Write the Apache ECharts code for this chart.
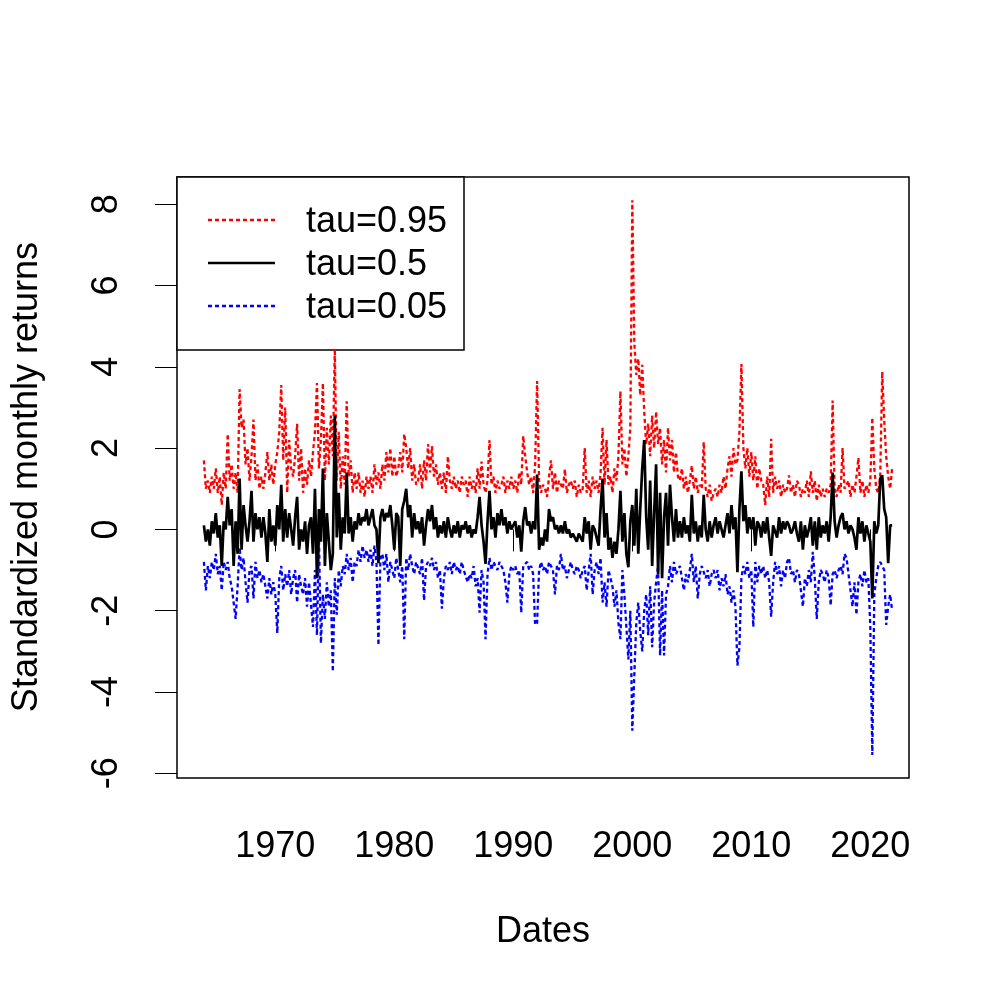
<!DOCTYPE html>
<html><head><meta charset="utf-8">
<script src="https://cdn.jsdelivr.net/npm/echarts@6/dist/echarts.min.js"></script>
<style>html,body{margin:0;padding:0;background:#fff}#c{width:1000px;height:1000px}</style>
</head><body><div id="c"></div>
<script>
const startYear = 1964;
const stepsPerYear = 6;
const xTicks = [1970, 1980, 1990, 2000, 2010, 2020];
const yTicks = [-6, -4, -2, 0, 2, 4, 6, 8];
const seriesNames = ['tau=0.95', 'tau=0.5', 'tau=0.05'];
const xTitle = 'Dates';
const yTitle = 'Standardized monthly returns';

const tau95 = [
1.7,1.0,1.2,0.9,1.3,1.0, 1.5,0.9,1.3,0.6,1.4,1.0, 2.35,1.2,1.6,1.0,1.4,0.9, 3.45,2.5,2.7,1.6,2.0,1.2,
1.8,2.7,1.2,1.6,1.0,1.3, 1.0,1.4,1.9,1.2,1.6,1.1, 1.6,1.9,2.4,3.55,1.7,3.0, 0.9,2.2,1.5,1.3,1.8,2.6,
1.2,2.0,0.9,1.5,1.1,1.7, 1.3,1.9,2.4,3.6,1.5,2.2, 3.6,1.2,2.5,1.6,2.8,1.8, 4.45,1.2,2.4,1.0,1.8,1.1,
3.15,1.3,1.7,0.9,1.4,1.0, 1.4,0.9,1.2,0.8,1.3,1.0, 1.3,0.9,1.6,1.1,1.4,1.0, 1.6,1.2,1.9,1.4,2.0,1.3,
1.8,1.3,1.5,1.9,1.4,2.35, 2.0,1.5,2.0,1.2,1.6,1.1, 1.2,1.6,1.0,1.7,1.2,2.1, 1.4,2.05,1.3,1.6,1.1,1.4,
1.0,1.4,0.9,1.8,1.2,1.0, 1.3,1.0,1.2,0.9,1.3,1.1, 1.2,0.8,1.3,1.0,1.2,0.9, 1.5,1.0,1.67,1.1,0.9,1.2,
2.2,1.1,1.3,0.9,1.2,1.0, 1.1,1.3,0.9,1.2,1.0,1.3, 1.0,1.2,0.9,1.4,1.1,2.3, 1.8,1.4,1.1,1.3,0.9,1.6,
3.65,1.2,0.9,1.1,1.0,0.8, 1.3,1.7,1.0,1.4,0.9,1.2, 1.2,1.0,1.48,0.9,1.1,1.2, 1.0,1.2,0.8,1.1,0.9,1.0,
2.0,0.9,1.2,0.8,1.3,1.0, 1.2,0.9,1.4,2.5,1.1,2.2, 1.1,1.3,0.9,1.5,1.2,1.8, 3.4,1.6,2.0,1.3,1.8,2.5,
8.1,4.6,3.8,4.2,3.3,4.05, 2.9,2.1,2.6,1.8,2.8,2.0, 2.9,2.1,2.5,1.6,2.2,1.4, 2.5,1.7,2.2,1.4,1.9,1.3,
1.2,1.5,1.0,1.3,0.9,1.2, 1.57,1.0,1.3,0.9,1.1,1.0, 2.15,1.0,0.8,1.1,0.7,0.9, 1.0,0.8,1.1,0.9,1.3,1.0,
1.5,1.8,1.3,2.0,1.6,1.7, 2.4,4.07,2.0,1.5,2.0,1.3, 1.9,1.2,1.8,1.0,1.5,1.2, 1.1,0.6,1.3,0.8,2.23,0.9,
1.3,1.0,1.2,0.8,1.1,0.9, 1.0,1.33,0.9,1.1,0.8,1.2, 1.1,0.8,1.0,0.9,1.2,0.8, 1.43,0.9,1.2,0.7,1.1,0.8,
1.0,0.8,1.0,0.9,1.1,3.17, 1.0,0.8,1.1,0.9,2.0,1.0, 1.0,1.2,0.8,1.1,0.9,1.3, 1.76,0.9,1.2,0.8,1.1,0.9,
1.2,2.75,1.5,1.0,0.9,1.3, 3.88,2.7,1.8,1.3,1.0,1.5
];

const tau50 = [
0.1,-0.3,0.0,-0.4,0.2,-0.1, 0.4,-0.2,0.1,-0.9,0.2,0.0, 0.8,0.1,0.5,-0.9,0.2,-0.6, 1.25,-0.5,0.6,0.1,-0.3,0.2,
0.95,-0.3,0.4,0.0,0.3,-0.2, 0.3,-0.1,-0.8,0.5,-0.3,0.1, -0.4,0.6,0.0,1.1,-0.3,0.5, -0.2,0.4,0.0,-0.4,0.3,0.8,
-0.5,0.0,-0.3,0.2,-0.6,0.1, 0.3,-0.6,1.0,-1.2,0.5,-0.3, 1.5,-0.9,0.4,-0.3,-1.0,-0.6, 2.8,-0.2,0.9,-0.5,0.3,-0.1,
1.4,-0.1,0.3,-0.3,0.2,0.0, 0.4,0.1,0.3,0.2,0.5,0.1, 0.3,0.5,0.1,0.0,-0.83,0.3, 0.5,0.2,0.4,0.3,0.6,0.1,
-0.5,0.4,0.3,-0.9,0.5,0.7, 1.0,0.3,0.6,-0.2,0.4,0.0, 0.2,-0.1,0.3,-0.4,0.1,0.5, 0.2,0.6,0.0,0.3,-0.2,0.1,
-0.1,0.2,-0.2,0.3,0.0,-0.2, 0.1,-0.1,0.2,-0.2,0.1,0.0, 0.2,-0.1,0.1,-0.2,0.0,-0.1, 0.3,0.8,0.1,-0.3,-0.85,0.2,
0.95,0.0,0.3,-0.2,0.4,0.1, 0.5,0.1,0.3,-0.1,0.2,0.0, 0.0,0.2,-0.2,0.1,-0.55,0.2, 0.55,0.1,0.2,-0.1,0.2,0.0,
1.35,-0.5,-0.2,-0.4,0.0,-0.3, 0.5,0.2,0.3,0.0,0.1,-0.1, 0.1,-0.1,0.2,-0.1,0.0,-0.2, -0.1,-0.2,-0.3,-0.1,-0.2,-0.3,
0.3,-0.1,0.2,-0.5,0.1,0.0, 0.0,-0.4,0.5,1.25,-0.2,0.4, -0.5,-0.2,-0.7,-0.3,-0.6,0.0, 0.95,-0.3,0.4,-0.6,-0.93,0.2,
0.6,-0.4,1.0,-0.6,0.5,1.5, 2.2,0.3,-0.5,1.2,-0.9,0.4, 1.6,-1.1,0.9,-1.2,0.3,0.9, -0.4,1.1,0.3,-0.3,0.5,-0.2,
0.2,-0.2,0.3,-0.1,0.1,-0.3, 0.85,-0.1,0.2,-0.3,0.1,-0.2, 0.85,0.0,-0.3,0.2,-0.2,0.1, 0.3,-0.1,0.2,0.0,-0.2,0.1,
0.4,-0.1,0.6,0.0,0.3,-1.05, 0.5,1.43,0.2,0.6,-0.1,0.3, 0.0,0.3,-0.4,0.2,0.1,-0.2, 0.2,-0.1,0.3,-0.2,-0.65,0.1,
0.1,-0.2,0.3,-0.1,0.2,0.0, 0.2,0.1,-0.1,0.0,0.2,-0.1, -0.3,0.2,-0.5,0.1,-0.2,0.0, 0.3,-0.4,0.2,-0.5,0.3,-0.2,
0.1,-0.1,0.2,-0.3,0.3,1.4, 0.2,-0.2,0.1,0.3,0.4,0.0, 0.2,-0.1,0.1,0.0,-0.2,-0.5, 0.3,-0.1,0.2,-0.3,0.1,-0.1,
-0.3,-1.7,0.2,-0.1,0.1,1.25, 1.33,0.5,0.3,-0.83,0.1,0.1
];

const tau05 = [
-0.8,-1.5,-0.9,-1.2,-0.8,-1.0, -0.6,-1.1,-0.9,-1.5,-0.8,-1.0, -0.8,-1.2,-1.4,-1.8,-2.2,-1.4, -0.45,-1.0,-0.7,-1.3,-1.8,-1.0,
-0.9,-1.7,-0.8,-1.2,-1.0,-1.3, -1.1,-1.4,-1.7,-1.2,-1.6,-1.3, -1.6,-2.55,-1.2,-0.9,-1.5,-1.1, -1.4,-1.0,-1.6,-1.2,-1.0,-1.8,
-1.1,-1.4,-1.6,-1.2,-1.9,-1.3, -1.3,-2.4,-1.0,-2.6,-0.2,-2.8, -1.6,-2.2,-1.3,-1.9,-1.5,-3.5, -1.2,-2.1,-1.0,-1.4,-0.9,-1.1,
-0.6,-1.0,-0.7,-1.3,-0.8,-0.9, -0.5,-0.8,-0.4,-0.7,-0.5,-0.8, -0.5,-0.9,-0.4,-0.8,-2.85,-0.7, -0.6,-1.0,-0.6,-1.3,-0.8,-1.0,
-1.2,-0.7,-1.0,-1.3,-0.9,-2.7, -0.7,-1.0,-0.6,-0.9,-1.1,-0.8, -0.8,-1.1,-0.7,-1.75,-0.9,-0.8, -0.9,-0.7,-1.0,-0.8,-1.2,-1.0,
-1.95,-1.2,-0.9,-1.0,-0.8,-1.1, -0.8,-1.0,-0.9,-1.1,-0.8,-1.0, -1.0,-1.3,-1.1,-1.2,-0.9,-1.4, -1.2,-2.05,-1.0,-1.3,-2.7,-1.1,
-0.7,-1.0,-0.8,-0.9,-1.0,-0.8, -0.9,-1.0,-1.3,-1.8,-1.1,-0.9, -1.0,-0.9,-1.1,-1.0,-2.05,-0.9, -0.9,-0.8,-1.0,-0.9,-1.1,-2.35,
-2.3,-1.0,-0.8,-1.0,-0.9,-1.1, -0.8,-0.9,-1.0,-1.6,-0.9,-1.0, -0.6,-1.0,-0.9,-1.2,-1.0,-0.8, -1.0,-1.1,-0.9,-1.0,-1.2,-1.0,
-0.9,-1.5,-1.0,-0.6,-1.6,-1.0, -0.8,-1.1,-0.7,-1.8,-1.3,-1.9, -1.0,-1.2,-1.4,-1.9,-1.5,-2.3, -2.7,-1.0,-1.6,-2.4,-3.2,-2.0,
-4.95,-3.6,-2.3,-1.8,-2.5,-3.0, -2.0,-1.6,-2.6,-1.4,-2.9,-1.8, -1.3,-0.9,-3.1,-1.5,-3.1,-1.6, -1.4,-0.9,-1.3,-0.8,-1.1,-1.0,
-0.9,-1.2,-1.5,-1.1,-1.3,-1.0, -0.6,-1.3,-0.9,-1.7,-1.1,-0.9, -0.9,-1.2,-1.0,-1.4,-1.1,-1.0, -1.2,-1.0,-1.5,-1.2,-1.4,-1.1,
-1.6,-1.4,-1.8,-1.5,-1.9,-3.35, -2.9,-1.2,-0.9,-1.1,-0.8,-1.2, -1.0,-2.4,-0.8,-1.3,-0.9,-1.1, -0.9,-1.2,-1.0,-1.3,-2.15,-1.3,
-0.8,-1.1,-0.9,-1.4,-1.0,-1.2, -0.8,-0.7,-1.1,-1.0,-1.3,-1.0, -1.1,-1.5,-1.9,-1.2,-1.4,-1.0, -1.3,-0.55,-1.2,-2.2,-1.3,-1.0,
-1.1,-1.3,-1.0,-1.2,-1.87,-1.1, -1.0,-1.2,-1.0,-0.9,-1.1,-0.6, -0.7,-1.1,-1.5,-1.9,-1.3,-2.1, -1.3,-1.1,-1.4,-1.0,-1.3,-1.2,
-2.4,-5.55,-1.6,-1.2,-0.9,-0.8, -0.9,-1.0,-2.35,-1.9,-1.6,-2.0
];

const FONT = '"Liberation Sans", Arial, Helvetica, sans-serif';
function toPairs(arr) {
  return arr.map((v, i) => [startYear + i / stepsPerYear, v]);
}
const chart = echarts.init(document.getElementById('c'), null, {renderer: 'canvas'});
const dash = [4, 3];
const colors = ['#ff0000', '#000000', '#0000ff'];
chart.setOption({
  animation: false,
  backgroundColor: '#ffffff',
  grid: {left: 177, top: 177, right: 91, bottom: 222, show: true, borderColor: '#000', borderWidth: 1.5, backgroundColor: 'transparent'},
  xAxis: {
    type: 'value', min: 1961.74, max: 2023.25,
    axisLine: {show: false},
    splitLine: {show: false},
    axisTick: {show: true, length: 22, customValues: xTicks, lineStyle: {color: '#000', width: 1}},
    axisLabel: {customValues: xTicks, formatter: v => String(v), fontSize: 36, fontFamily: FONT, color: '#000', margin: 51}
  },
  yAxis: {
    type: 'value', min: -6.116, max: 8.67,
    axisLine: {show: false},
    splitLine: {show: false},
    axisTick: {show: true, length: 22, customValues: yTicks, lineStyle: {color: '#000', width: 1}},
    axisLabel: {customValues: yTicks, formatter: v => String(v), fontSize: 36, fontFamily: FONT, color: '#000', margin: 52, rotate: 90}
  },
  series: [
    {name: seriesNames[0], type: 'line', data: toPairs(tau95), showSymbol: false, symbol: 'none', lineStyle: {color: colors[0], width: 2.3, type: dash}, z: 2},
    {name: seriesNames[2], type: 'line', data: toPairs(tau05), showSymbol: false, symbol: 'none', lineStyle: {color: colors[2], width: 2.3, type: dash}, z: 2},
    {name: seriesNames[1], type: 'line', data: toPairs(tau50), showSymbol: false, symbol: 'none', lineStyle: {color: colors[1], width: 2.7}, z: 3}
  ],
  graphic: [
    {type: 'text', x: 543, y: 932, style: {text: xTitle, font: '36px ' + FONT, fill: '#000', align: 'center', verticalAlign: 'middle'}},
    {type: 'text', x: 27, y: 477, rotation: Math.PI / 2, style: {text: yTitle, font: '36px ' + FONT, fill: '#000', align: 'center', verticalAlign: 'middle'}},
    {type: 'group', z: 100, children: [
      {type: 'rect', shape: {x: 177, y: 177, width: 287, height: 173}, style: {fill: '#fff', stroke: '#000', lineWidth: 1.5}},
      {type: 'line', shape: {x1: 208, y1: 220, x2: 275, y2: 220}, style: {stroke: colors[0], lineWidth: 2.3, lineDash: dash}},
      {type: 'line', shape: {x1: 208, y1: 263, x2: 275, y2: 263}, style: {stroke: colors[1], lineWidth: 2.7}},
      {type: 'line', shape: {x1: 208, y1: 306, x2: 275, y2: 306}, style: {stroke: colors[2], lineWidth: 2.3, lineDash: dash}},
      {type: 'text', x: 306, y: 222, style: {text: seriesNames[0], font: '36px ' + FONT, fill: '#000', align: 'left', verticalAlign: 'middle'}},
      {type: 'text', x: 306, y: 265, style: {text: seriesNames[1], font: '36px ' + FONT, fill: '#000', align: 'left', verticalAlign: 'middle'}},
      {type: 'text', x: 306, y: 308, style: {text: seriesNames[2], font: '36px ' + FONT, fill: '#000', align: 'left', verticalAlign: 'middle'}}
    ]}
  ]
});
</script></body></html>
